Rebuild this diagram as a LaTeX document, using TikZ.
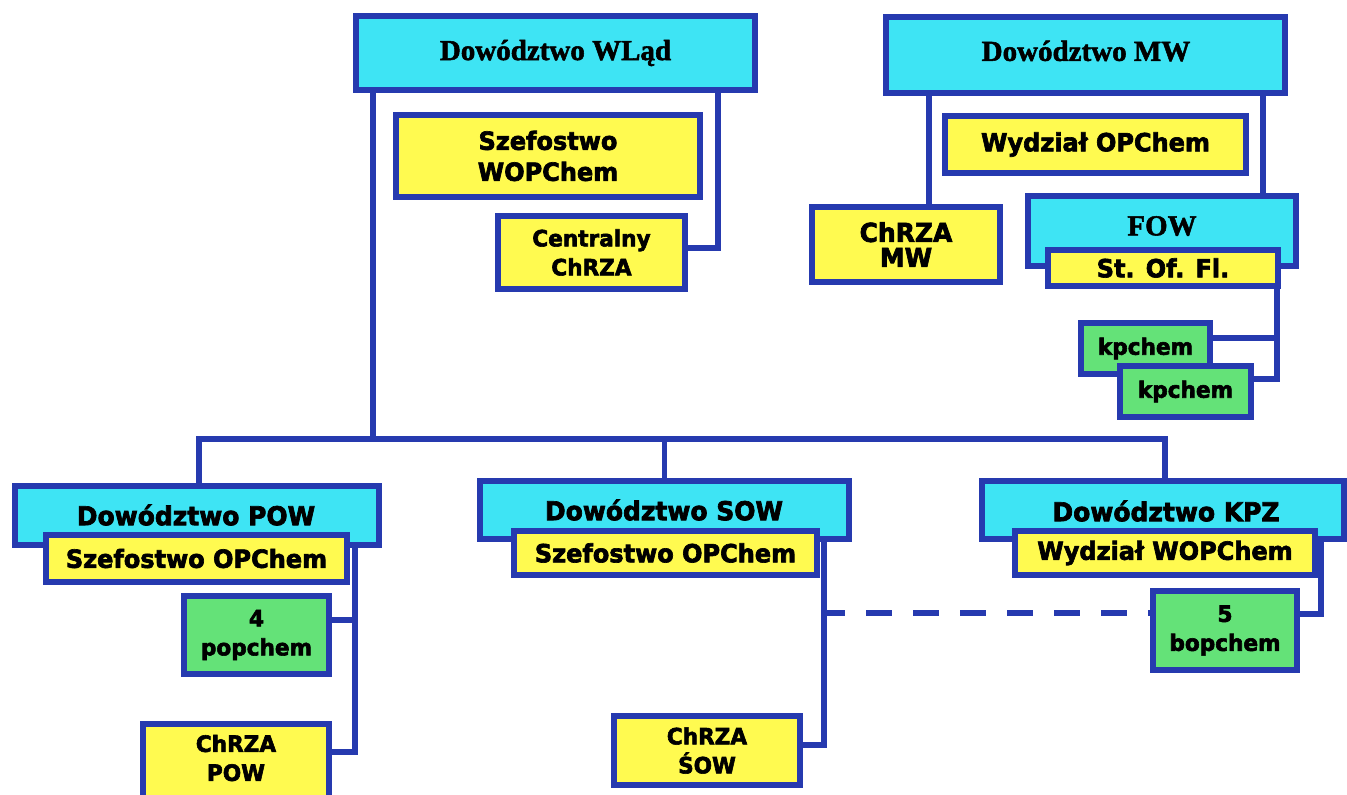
\documentclass[tikz,border=0pt]{standalone}
\usepackage{fontspec}
\setmainfont{Liberation Serif}[BoldFeatures={FakeBold=1.8}]
\newfontfamily\dvsans{DejaVu Sans}[FakeStretch=0.96, BoldFeatures={FakeBold=2.6, FakeStretch=0.96}]
\definecolor{cyanc}{RGB}{62,228,244}
\definecolor{yelc}{RGB}{255,250,80}
\definecolor{grnc}{RGB}{100,226,120}
\definecolor{bordc}{RGB}{38,58,175}
\pgfdeclarelayer{back}
\pgfdeclarelayer{bg}
\pgfsetlayers{back,bg,main}
\newcommand{\orgbox}[7]{\node[#1, minimum width={#5-#3-6}, minimum height={#6-#4-6}] (#2) at ({(#3+#5)/2},{(#4+#6)/2}) {#7};}
\begin{document}
\begin{tikzpicture}[x=1pt,y=-1pt,
  box/.style={draw=bordc, line width=6pt, inner sep=0pt, outer sep=0pt, align=center, text=black},
  cyanbox/.style={box, fill=cyanc},
  yelbox/.style={box, fill=yelc},
  grnbox/.style={box, fill=grnc},
  serift/.style={font=\bfseries\fontsize{29}{32}\selectfont, inner sep=0pt, text=black},
  sansd/.style={font=\dvsans\bfseries\fontsize{26}{30}\selectfont, inner sep=0pt, text=black, align=center},
  sansa/.style={font=\dvsans\bfseries\fontsize{25}{31}\selectfont},
  sansb/.style={font=\dvsans\bfseries\fontsize{22.5}{29}\selectfont},
  sansbt/.style={sansb, inner sep=0pt, text=black, align=center},
  sansc/.style={font=\dvsans\bfseries\fontsize{26}{25}\selectfont},
  conn/.style={draw=bordc, line width=5.5pt, line join=miter},
  dashconn/.style={conn, dash pattern=on 26pt off 21pt, dash phase=5pt}
]
\useasboundingbox (0,0) rectangle (1347,795);
\begin{pgfonlayer}{back}
\fill[white] (0,0) rectangle (1347,795);
\end{pgfonlayer}

% top left group
\orgbox{cyanbox,serift}{wlad}{353}{13}{758}{93}{Dowództwo WLąd}
\orgbox{yelbox,sansa}{szwop}{393}{112}{703}{200}{Szefostwo\\WOPChem}
\orgbox{yelbox,sansb}{centr}{495}{213}{688}{292}{Centralny\\ChRZA}

% top right group
\orgbox{cyanbox}{mw}{883}{14}{1288}{96}{}
\node[serift] (mwt) at (1086,51) {Dowództwo MW};
\orgbox{yelbox,sansa}{wydop}{942}{113}{1249}{176}{Wydział OPChem}
\orgbox{yelbox,sansc}{chmw}{809}{204}{1003}{285}{ChRZA\\MW}
\orgbox{cyanbox}{fow}{1025}{193}{1299}{269}{}
\node[serift] (fowt) at (1162,226) {FOW};
\orgbox{yelbox,sansa}{stof}{1045}{247}{1281}{289}{St. Of. Fl.}
\orgbox{grnbox,sansb}{kp1}{1078}{320}{1213}{377}{kpchem}
\orgbox{grnbox,sansb}{kp2}{1117}{363}{1254}{420}{kpchem}

% POW
\orgbox{cyanbox}{pow}{12}{483}{382}{548}{}
\node[sansd] (powt) at (196,515) {Dowództwo POW};
\orgbox{yelbox,sansa}{szpow}{43}{532}{350}{585}{Szefostwo OPChem}
\orgbox{grnbox,sansb}{pop}{181}{593}{332}{677}{4\\popchem}
\orgbox{yelbox}{chpow}{140}{721}{332}{805}{}
\node[sansbt] (chpowt) at (236,758) {ChRZA\\POW};

% SOW
\orgbox{cyanbox}{sow}{477}{478}{852}{542}{}
\node[sansd] (sowt) at (664,510) {Dowództwo SOW};
\orgbox{yelbox,sansa}{szsow}{511}{528}{820}{578}{Szefostwo OPChem}
\orgbox{yelbox,sansb}{chsow}{611}{713}{803}{788}{ChRZA\\ŚOW}

% KPZ
\orgbox{cyanbox}{kpz}{979}{478}{1347}{542}{}
\node[sansd] (kpzt) at (1166,511) {Dowództwo KPZ};
\orgbox{yelbox,sansa}{wydw}{1012}{528}{1318}{578}{Wydział WOPChem}
\orgbox{grnbox,sansb}{bop}{1150}{588}{1300}{673}{5\\bopchem}

\coordinate (busL) at (199,439);
\coordinate (busR) at (1165,439);
\coordinate (kpj) at (1277,338);
\coordinate (popj) at (355,620);
\coordinate (dashL) at (824,613);

\begin{pgfonlayer}{bg}
\draw[conn] (wlad.south -| 373,0) -- (busL -| 373,0);
\draw[conn] (pow.north -| busL) -- (busL) -- (busR) -- (kpz.north -| busR);
\draw[conn] (sow.north) -- (sow.north |- busL);
\draw[conn] (wlad.south -| 718,0) |- (centr.east |- 0,248);
\draw[conn] (mw.south -| 929,0) -- (chmw.north -| 929,0);
\draw[conn] (mw.south -| 1263,0) -- (fow.north -| 1263,0);
\draw[conn] (stof.south -| kpj) |- (kp2.east |- 0,379);
\draw[conn] (kp1.east |- kpj) -- (kpj);
\draw[conn] (pow.south -| popj) |- (chpow.east |- 0,752);
\draw[conn] (pop.east |- popj) -- (popj);
\draw[conn] (sow.south -| dashL) |- (chsow.east |- 0,745);
\draw[dashconn] (dashL) -- (bop.west |- dashL);
\draw[conn] (kpz.south -| 1321,0) |- (bop.east |- 0,614);
\end{pgfonlayer}
\end{tikzpicture}
\end{document}
